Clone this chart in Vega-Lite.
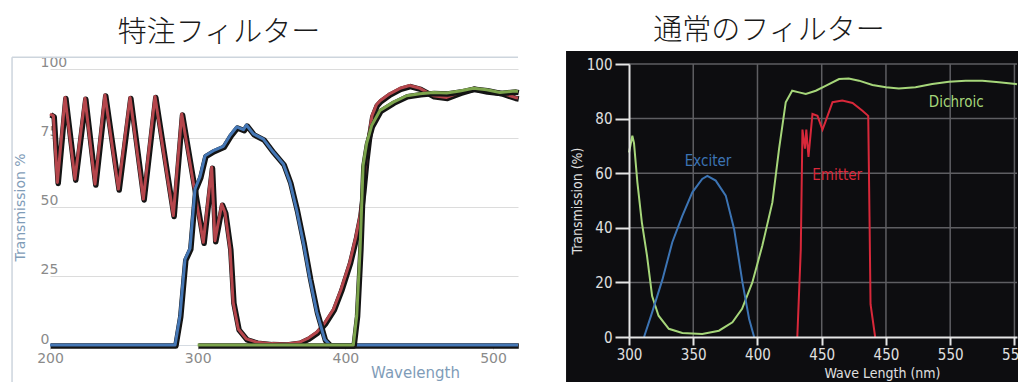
{
  "$schema": "https://vega.github.io/schema/vega-lite/v6.json",
  "background": "white",
  "padding": {"left": 11, "top": 16, "right": 0, "bottom": 0},
  "spacing": 44,
  "config": {
    "view": {"stroke": null},
    "title": {"font": "Noto Sans CJK JP", "fontSize": 29, "fontWeight": 300, "color": "#1a1a1a"}
  },
  "datasets": {
    "left": [
      {"s": "red", "x": 200, "y": 83.7}, {"s": "red", "x": 202.3, "y": 83}, {"s": "red", "x": 205, "y": 58.9},
      {"s": "red", "x": 210.2, "y": 89.7}, {"s": "red", "x": 216.9, "y": 60.1}, {"s": "red", "x": 223.7, "y": 89.4},
      {"s": "red", "x": 230.5, "y": 58.3}, {"s": "red", "x": 237.2, "y": 90.6}, {"s": "red", "x": 246.3, "y": 56.5},
      {"s": "red", "x": 254.2, "y": 89.7}, {"s": "red", "x": 263.2, "y": 52.9}, {"s": "red", "x": 271.1, "y": 90},
      {"s": "red", "x": 283.5, "y": 46.9}, {"s": "red", "x": 289.2, "y": 83.7}, {"s": "red", "x": 303.8, "y": 37.2},
      {"s": "red", "x": 309.5, "y": 64.4}, {"s": "red", "x": 311.7, "y": 37.8}, {"s": "red", "x": 316.3, "y": 51},
      {"s": "red", "x": 318.5, "y": 48}, {"s": "red", "x": 321.9, "y": 34.8}, {"s": "red", "x": 324, "y": 15.5},
      {"s": "red", "x": 327.5, "y": 5.8}, {"s": "red", "x": 333, "y": 2.2}, {"s": "red", "x": 340, "y": 1},
      {"s": "red", "x": 350, "y": 0.5}, {"s": "red", "x": 360, "y": 0.4}, {"s": "red", "x": 369, "y": 1},
      {"s": "red", "x": 375, "y": 2.5}, {"s": "red", "x": 380.6, "y": 4.6}, {"s": "red", "x": 386, "y": 8},
      {"s": "red", "x": 392, "y": 13}, {"s": "red", "x": 397, "y": 20}, {"s": "red", "x": 403, "y": 30},
      {"s": "red", "x": 407, "y": 39}, {"s": "red", "x": 410, "y": 47}, {"s": "red", "x": 412, "y": 56},
      {"s": "red", "x": 414, "y": 67}, {"s": "red", "x": 416, "y": 76}, {"s": "red", "x": 418, "y": 83},
      {"s": "red", "x": 421, "y": 87}, {"s": "red", "x": 423.5, "y": 88.5}, {"s": "red", "x": 430, "y": 91},
      {"s": "red", "x": 437, "y": 93}, {"s": "red", "x": 443.5, "y": 94}, {"s": "red", "x": 450.5, "y": 93},
      {"s": "red", "x": 459.6, "y": 90.3}, {"s": "red", "x": 468.6, "y": 89.7}, {"s": "red", "x": 477.6, "y": 91.5},
      {"s": "red", "x": 486.7, "y": 93}, {"s": "red", "x": 495.7, "y": 92}, {"s": "red", "x": 504.7, "y": 91.5},
      {"s": "red", "x": 514.9, "y": 89.7}, {"s": "red", "x": 516.9, "y": 89.5},
      {"s": "blue", "x": 200, "y": 0}, {"s": "blue", "x": 284.7, "y": 0}, {"s": "blue", "x": 288, "y": 10.6},
      {"s": "blue", "x": 291.4, "y": 31}, {"s": "blue", "x": 294.8, "y": 35}, {"s": "blue", "x": 298.2, "y": 56.5},
      {"s": "blue", "x": 301.6, "y": 61}, {"s": "blue", "x": 305, "y": 68.6}, {"s": "blue", "x": 310.6, "y": 70.4},
      {"s": "blue", "x": 317.4, "y": 72}, {"s": "blue", "x": 322, "y": 76}, {"s": "blue", "x": 326.4, "y": 79},
      {"s": "blue", "x": 331, "y": 78}, {"s": "blue", "x": 333, "y": 79.7}, {"s": "blue", "x": 337.7, "y": 76.5},
      {"s": "blue", "x": 344.5, "y": 74.6}, {"s": "blue", "x": 351, "y": 70}, {"s": "blue", "x": 358, "y": 65.6},
      {"s": "blue", "x": 362.5, "y": 59}, {"s": "blue", "x": 367, "y": 49}, {"s": "blue", "x": 371.6, "y": 37},
      {"s": "blue", "x": 376, "y": 24}, {"s": "blue", "x": 380.6, "y": 12}, {"s": "blue", "x": 386, "y": 2},
      {"s": "blue", "x": 389.6, "y": 0}, {"s": "blue", "x": 516.9, "y": 0},
      {"s": "green", "x": 300, "y": 0}, {"s": "green", "x": 405.4, "y": 0}, {"s": "green", "x": 407.7, "y": 10.6},
      {"s": "green", "x": 410, "y": 35}, {"s": "green", "x": 412, "y": 65}, {"s": "green", "x": 414.4, "y": 73},
      {"s": "green", "x": 417.8, "y": 79.5}, {"s": "green", "x": 423.5, "y": 85}, {"s": "green", "x": 432.5, "y": 88},
      {"s": "green", "x": 441.5, "y": 90.3}, {"s": "green", "x": 450.5, "y": 91}, {"s": "green", "x": 459.6, "y": 91.5},
      {"s": "green", "x": 468.6, "y": 91.3}, {"s": "green", "x": 477.6, "y": 92}, {"s": "green", "x": 486.7, "y": 93},
      {"s": "green", "x": 495.7, "y": 92.5}, {"s": "green", "x": 504.7, "y": 91.5}, {"s": "green", "x": 515, "y": 92},
      {"s": "green", "x": 516.9, "y": 91.8}
    ],
    "right": [
      {"s": "Dichroic", "x": 300, "y": 67.6}, {"s": "Dichroic", "x": 302.6, "y": 73.7}, {"s": "Dichroic", "x": 303.9, "y": 71},
      {"s": "Dichroic", "x": 306.5, "y": 56.7}, {"s": "Dichroic", "x": 310, "y": 42}, {"s": "Dichroic", "x": 314, "y": 29.8},
      {"s": "Dichroic", "x": 318, "y": 15}, {"s": "Dichroic", "x": 323, "y": 7.8}, {"s": "Dichroic", "x": 331, "y": 3},
      {"s": "Dichroic", "x": 341.5, "y": 1.5}, {"s": "Dichroic", "x": 357, "y": 1.1}, {"s": "Dichroic", "x": 370, "y": 2.3},
      {"s": "Dichroic", "x": 380.5, "y": 5.4}, {"s": "Dichroic", "x": 388, "y": 10.3}, {"s": "Dichroic", "x": 396, "y": 20},
      {"s": "Dichroic", "x": 403.8, "y": 33.5}, {"s": "Dichroic", "x": 411.6, "y": 49.3}, {"s": "Dichroic", "x": 416.8, "y": 68.9},
      {"s": "Dichroic", "x": 422, "y": 86}, {"s": "Dichroic", "x": 427, "y": 90.2}, {"s": "Dichroic", "x": 432.4, "y": 89.6},
      {"s": "Dichroic", "x": 437.6, "y": 89}, {"s": "Dichroic", "x": 445.4, "y": 90.2}, {"s": "Dichroic", "x": 453, "y": 92},
      {"s": "Dichroic", "x": 463.5, "y": 94.5}, {"s": "Dichroic", "x": 471, "y": 94.7}, {"s": "Dichroic", "x": 479, "y": 93.9},
      {"s": "Dichroic", "x": 489.5, "y": 92.3}, {"s": "Dichroic", "x": 500, "y": 91.5}, {"s": "Dichroic", "x": 510, "y": 91},
      {"s": "Dichroic", "x": 523, "y": 91.5}, {"s": "Dichroic", "x": 536, "y": 92.7}, {"s": "Dichroic", "x": 549, "y": 93.5},
      {"s": "Dichroic", "x": 562, "y": 93.9}, {"s": "Dichroic", "x": 575, "y": 93.9}, {"s": "Dichroic", "x": 588, "y": 93.3},
      {"s": "Dichroic", "x": 601, "y": 92.7}, {"s": "Dichroic", "x": 602, "y": 92.6},
      {"s": "Exciter", "x": 311.7, "y": 0}, {"s": "Exciter", "x": 318, "y": 9}, {"s": "Exciter", "x": 326, "y": 21},
      {"s": "Exciter", "x": 333.7, "y": 34.7}, {"s": "Exciter", "x": 341.5, "y": 44.4}, {"s": "Exciter", "x": 349.3, "y": 53},
      {"s": "Exciter", "x": 357, "y": 57.9}, {"s": "Exciter", "x": 361, "y": 59}, {"s": "Exciter", "x": 367.5, "y": 57.3},
      {"s": "Exciter", "x": 375.3, "y": 51.8}, {"s": "Exciter", "x": 381.8, "y": 39.6}, {"s": "Exciter", "x": 388.3, "y": 20},
      {"s": "Exciter", "x": 393.5, "y": 6.6}, {"s": "Exciter", "x": 397.4, "y": 0},
      {"s": "Emitter", "x": 431, "y": 0}, {"s": "Emitter", "x": 433.7, "y": 32}, {"s": "Emitter", "x": 435, "y": 76},
      {"s": "Emitter", "x": 437, "y": 69}, {"s": "Emitter", "x": 438, "y": 76}, {"s": "Emitter", "x": 439.7, "y": 66},
      {"s": "Emitter", "x": 442.8, "y": 81.7}, {"s": "Emitter", "x": 446.7, "y": 81}, {"s": "Emitter", "x": 450.6, "y": 76},
      {"s": "Emitter", "x": 453, "y": 79}, {"s": "Emitter", "x": 458.4, "y": 86}, {"s": "Emitter", "x": 466, "y": 86.6},
      {"s": "Emitter", "x": 474, "y": 85.7}, {"s": "Emitter", "x": 481.7, "y": 82.9}, {"s": "Emitter", "x": 486.2, "y": 81},
      {"s": "Emitter", "x": 487.2, "y": 44}, {"s": "Emitter", "x": 488, "y": 12}, {"s": "Emitter", "x": 491.6, "y": 0}
    ],
    "rlabels": [
      {"s": "Exciter", "x": 361.5, "y": 64.5, "a": "center"},
      {"s": "Emitter", "x": 462, "y": 59.3, "a": "center"},
      {"s": "Dichroic", "x": 554.7, "y": 86, "a": "left"}
    ]
  },
  "hconcat": [
    {
      "width": 468,
      "height": 281,
      "title": {"text": "特注フィルター", "anchor": "middle", "frame": "group", "dx": -65, "offset": 8},
      "layer": [
        {
          "data": {"values": [{}]},
          "mark": {"type": "rule", "color": "#cdd5dd", "strokeWidth": 1.5},
          "encoding": {
            "x": {"datum": 174.3, "type": "quantitative"},
            "y": {"datum": -13.8, "type": "quantitative"},
            "y2": {"datum": 104.3}
          }
        },
        {
          "data": {"values": [{}]},
          "mark": {"type": "rule", "color": "#cdd5dd", "strokeWidth": 1.5},
          "encoding": {
            "x": {"datum": 174.3, "type": "quantitative"},
            "x2": {"datum": 516.9},
            "y": {"datum": 104.3, "type": "quantitative"}
          }
        },
        {
          "data": {"name": "left"},
          "transform": [{"filter": "datum.s == 'red'"}],
          "mark": {"type": "line", "color": "#141414", "strokeWidth": 5.5, "xOffset": 0.8, "yOffset": 1, "strokeJoin": "round"},
          "encoding": {
            "x": {
              "field": "x", "type": "quantitative",
              "scale": {"domain": [200, 516.9], "nice": false, "zero": false},
              "axis": {
                "values": [200, 300, 400, 500], "title": "Wavelength", "grid": false,
                "domain": true, "domainColor": "#d5dbe2", "domainWidth": 1,
                "ticks": true, "tickSize": 4, "tickColor": "#c8c8c8",
                "labelFont": "DejaVu Sans", "labelFontSize": 14, "labelColor": "#8a8a8a", "labelPadding": 2,
                "labelFlush": false, "labelOverlap": false,
                "titleFont": "DejaVu Sans", "titleFontSize": 15, "titleFontWeight": "normal", "titleColor": "#7f9cb8",
                "titleX": 365, "titleY": 27, "titleBaseline": "middle", "titleAlign": "center"
              }
            },
            "y": {
              "field": "y", "type": "quantitative",
              "scale": {"domain": [0, 101.81], "nice": false},
              "axis": {
                "values": [0, 25, 50, 75, 100], "title": "Transmission %",
                "grid": true, "gridColor": "#dcdcdc", "gridWidth": 1,
                "domain": false, "ticks": false,
                "labelAlign": "left", "labelBaseline": "alphabetic", "labelPadding": 10, "labelOffset": -2,
                "labelFont": "DejaVu Sans", "labelFontSize": 14, "labelColor": "#8a8a8a",
                "labelFlush": false, "labelOverlap": false,
                "titleFont": "DejaVu Sans", "titleFontSize": 14, "titleFontWeight": "normal", "titleColor": "#7f9cb8",
                "titleX": -30, "titleY": 143, "titleBaseline": "middle", "titleAlign": "center", "titleAngle": -90
              }
            }
          }
        },
        {
          "data": {"name": "left"},
          "transform": [{"filter": "datum.s == 'red'"}],
          "mark": {"type": "line", "color": "#b5464c", "strokeWidth": 3, "strokeJoin": "round"},
          "encoding": {"x": {"field": "x", "type": "quantitative"}, "y": {"field": "y", "type": "quantitative"}}
        },
        {
          "data": {"name": "left"},
          "transform": [{"filter": "datum.s == 'blue'"}],
          "mark": {"type": "line", "color": "#141414", "strokeWidth": 5.5, "xOffset": 0.8, "yOffset": 1, "strokeJoin": "round"},
          "encoding": {"x": {"field": "x", "type": "quantitative"}, "y": {"field": "y", "type": "quantitative"}}
        },
        {
          "data": {"name": "left"},
          "transform": [{"filter": "datum.s == 'blue'"}],
          "mark": {"type": "line", "color": "#4577b5", "strokeWidth": 3, "strokeJoin": "round"},
          "encoding": {"x": {"field": "x", "type": "quantitative"}, "y": {"field": "y", "type": "quantitative"}}
        },
        {
          "data": {"name": "left"},
          "transform": [{"filter": "datum.s == 'green'"}],
          "mark": {"type": "line", "color": "#141414", "strokeWidth": 5.5, "xOffset": 0.8, "yOffset": 1, "strokeJoin": "round"},
          "encoding": {"x": {"field": "x", "type": "quantitative"}, "y": {"field": "y", "type": "quantitative"}}
        },
        {
          "data": {"name": "left"},
          "transform": [{"filter": "datum.s == 'green'"}],
          "mark": {"type": "line", "color": "#7ca44c", "strokeWidth": 3, "strokeJoin": "round"},
          "encoding": {"x": {"field": "x", "type": "quantitative"}, "y": {"field": "y", "type": "quantitative"}}
        }
      ]
    },
    {
      "width": 388,
      "height": 273,
      "title": {"text": "通常のフィルター", "anchor": "middle", "frame": "group", "dx": -54, "offset": 5},
      "layer": [
        {
          "data": {"values": [{}]},
          "mark": {"type": "rect", "color": "#0d0d10"},
          "encoding": {
            "x": {"datum": 251, "type": "quantitative"},
            "x2": {"datum": 612},
            "y": {"datum": -17, "type": "quantitative"},
            "y2": {"datum": 104.8}
          }
        },
        {
          "data": {"values": [{"g": 350}, {"g": 400}, {"g": 450}, {"g": 500}, {"g": 550}, {"g": 600}]},
          "mark": {"type": "rule", "color": "#5e5e62", "strokeWidth": 1.5},
          "encoding": {"x": {"field": "g", "type": "quantitative"}}
        },
        {
          "data": {"values": [{"g": 20}, {"g": 40}, {"g": 60}, {"g": 80}, {"g": 100}]},
          "mark": {"type": "rule", "color": "#5e5e62", "strokeWidth": 1.5},
          "encoding": {"y": {"field": "g", "type": "quantitative"}}
        },
        {
          "data": {"name": "right"},
          "mark": {"type": "line", "strokeWidth": 2},
          "encoding": {
            "x": {
              "field": "x", "type": "quantitative",
              "scale": {"domain": [300, 602], "nice": false, "zero": false},
              "axis": {
                "values": [300, 350, 400, 450, 500, 550, 600],
                "labelExpr": "datum.value == 500 ? '450' : datum.value == 600 ? '550' : datum.label",
                "title": "Wave Length (nm)", "grid": false, "zindex": 1,
                "domainColor": "#e6e6e6", "domainWidth": 2,
                "tickColor": "#e6e6e6", "tickWidth": 2, "tickSize": 8,
                "labelColor": "#e0e0e0", "labelFont": "Liberation Sans Narrow, DejaVu Sans Condensed, Liberation Sans", "labelFontSize": 15, "labelPadding": 2,
                "labelFlush": false, "labelOverlap": false,
                "titleColor": "#e0e0e0", "titleFont": "Liberation Sans Narrow, DejaVu Sans Condensed, Liberation Sans", "titleFontSize": 14, "titleFontWeight": "normal",
                "titleX": 253, "titleY": 36, "titleBaseline": "middle", "titleAlign": "center"
              }
            },
            "y": {
              "field": "y", "type": "quantitative",
              "scale": {"domain": [0, 100], "nice": false},
              "axis": {
                "values": [0, 5, 10, 15, 20, 25, 30, 35, 40, 45, 50, 55, 60, 65, 70, 75, 80, 85, 90, 95, 100],
                "labelExpr": "datum.value % 20 == 0 ? datum.label : ''",
                "title": "Transmission (%)", "grid": false, "zindex": 1,
                "domainColor": "#e6e6e6", "domainWidth": 2,
                "tickColor": "#e6e6e6", "tickWidth": 2,
                "tickSize": {"condition": {"test": "datum.value % 20 == 0", "value": 14}, "value": 7},
                "labelColor": "#e0e0e0", "labelFont": "Liberation Sans Narrow, DejaVu Sans Condensed, Liberation Sans", "labelFontSize": 15, "labelPadding": 3,
                "labelFlush": false, "labelOverlap": false,
                "titleColor": "#e0e0e0", "titleFont": "Liberation Sans Narrow, DejaVu Sans Condensed, Liberation Sans", "titleFontSize": 14, "titleFontWeight": "normal",
                "titleX": -52, "titleY": 136.5, "titleBaseline": "middle", "titleAlign": "center", "titleAngle": -90
              }
            },
            "color": {
              "field": "s", "type": "nominal",
              "scale": {"domain": ["Dichroic", "Exciter", "Emitter"], "range": ["#a6d67a", "#3c74b4", "#d8283a"]},
              "legend": null
            }
          }
        },
        {
          "data": {"name": "rlabels"},
          "mark": {"type": "text", "font": "Liberation Sans Narrow, DejaVu Sans Condensed, Liberation Sans", "fontSize": 15, "baseline": "middle"},
          "encoding": {
            "x": {"field": "x", "type": "quantitative"},
            "y": {"field": "y", "type": "quantitative"},
            "text": {"field": "s"},
            "align": {"field": "a", "type": "nominal", "scale": null},
            "color": {
              "field": "s", "type": "nominal",
              "scale": {"domain": ["Dichroic", "Exciter", "Emitter"], "range": ["#8cc060", "#3d7dc8", "#d83040"]},
              "legend": null
            }
          }
        }
      ]
    }
  ]
}
